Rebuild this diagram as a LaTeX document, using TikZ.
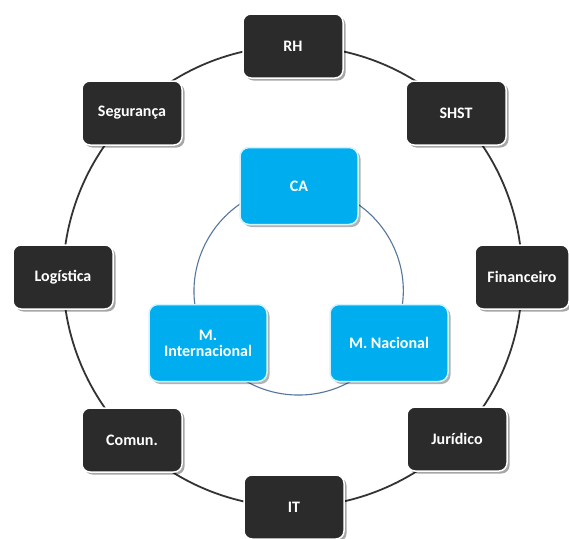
\documentclass[tikz,border=0pt]{standalone}
\usepackage{fontspec}
\setmainfont{Carlito}
\usetikzlibrary{shadows,backgrounds}
\definecolor{boxdark}{HTML}{2B2B2B}
\definecolor{boxcyan}{HTML}{00AEEF}
\definecolor{cyanedge}{HTML}{D2F4FF}
\definecolor{ringdark}{HTML}{333333}
\definecolor{ringblue}{HTML}{56769E}
\begin{document}
\begin{tikzpicture}[x=1pt,y=1pt,
  outerbox/.style={draw=white, line width=1.5pt, fill=boxdark, rounded corners=8pt,
    minimum width=100pt, minimum height=64pt, text=white, align=center,
    font=\fontsize{16}{16}\selectfont\bfseries,
    drop shadow={shadow xshift=2.5pt, shadow yshift=-2.5pt, opacity=0.35, fill=black}},
  innerbox/.style={draw=cyanedge, line width=1.5pt, fill=boxcyan, rounded corners=9pt,
    minimum width=118pt, minimum height=77pt, text=white, align=center,
    font=\fontsize{16}{16}\selectfont\bfseries,
    drop shadow={shadow xshift=2.5pt, shadow yshift=-2.5pt, opacity=0.3, fill=black}},
  outerring/.style={draw=ringdark, line width=1.8pt, bend left=22.5, looseness=0.885},
  innerring/.style={draw=ringblue, line width=1.1pt, bend left=60, looseness=1.135}
]
\useasboundingbox (0,0) rectangle (569,-538);

% outer ring nodes
\node[outerbox] (rh)   at (293,-46)  {RH};
\node[outerbox] (shst) at (456,-113) {SHST};
\node[outerbox, minimum width=94pt] (fin) at (522,-277) {Financeiro};
\node[outerbox] (jur)  at (457,-439) {Jurídico};
\node[outerbox] (it)   at (294,-507) {IT};
\node[outerbox] (com)  at (132,-440) {Comun.};
\node[outerbox] (log)  at (63,-277)  {Logística};
\node[outerbox] (seg)  at (132,-113) {Segurança};

% inner nodes
\node[innerbox] (ca) at (299,-186) {CA};
\node[innerbox] (mn) at (389,-343) {M. Nacional};
\node[innerbox] (mi) at (208,-343) {M.\\Internacional};

\begin{scope}[on background layer]
  \fill[white] (0,0) rectangle (569,-538);
  \draw[outerring] (rh.center) to (shst.center);
  \draw[outerring] (shst.center) to (fin.center);
  \draw[outerring] (fin.center) to (jur.center);
  \draw[outerring] (jur.center) to (it.center);
  \draw[outerring] (it.center) to (com.center);
  \draw[outerring] (com.center) to (log.center);
  \draw[outerring] (log.center) to (seg.center);
  \draw[outerring] (seg.center) to (rh.center);
  \draw[innerring] (ca.center) to (mn.center);
  \draw[innerring] (mn.center) to (mi.center);
  \draw[innerring] (mi.center) to (ca.center);
\end{scope}
\end{tikzpicture}
\end{document}
